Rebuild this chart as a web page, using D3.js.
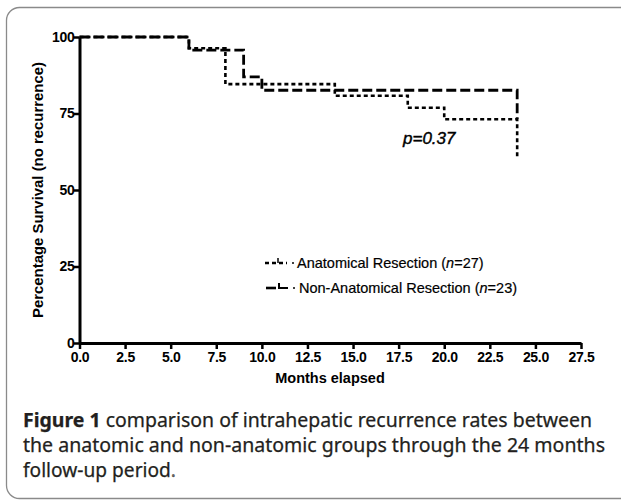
<!DOCTYPE html>
<html><head><meta charset="utf-8">
<script src="https://cdn.jsdelivr.net/npm/d3@7"></script>
<style>
body{margin:0;background:#fff;}
svg{display:block;}
</style></head>
<body>
<svg id="chart" width="621" height="501"></svg>
<script>
// ---- data ----
const xTicks = [0, 2.5, 5, 7.5, 10, 12.5, 15, 17.5, 20, 22.5, 25, 27.5];
const yTicks = [0, 25, 50, 75, 100];
const anatTimes = [0, 6, 8, 14, 18, 20, 24, 24];
const anatSurv  = [100, 96.3, 84.6, 80.8, 76.9, 73.1, 61.0, 61.0];
const nonTimes  = [0, 6, 9, 10, 24, 24];
const nonSurv   = [100, 95.7, 87.0, 82.6, 73.3, 73.3];
const legendLabels = [
  {name: "Anatomical Resection (", n: "n", rest: "=27)"},
  {name: "Non-Anatomical Resection (", n: "n", rest: "=23)"}
];
const pText = "p=0.37";
const captionBold = "Figure 1";
const captionLines = [
  " comparison of intrahepatic recurrence rates between",
  "the anatomic and non-anatomic groups through the 24 months",
  "follow-up period"
];

const svg = d3.select("#chart");
// frame
svg.append("rect").attr("x", 6.5).attr("y", 7.5).attr("width", 680).attr("height", 491)
  .attr("rx", 13).attr("fill", "none").attr("stroke", "#8a8a8a").attr("stroke-width", 1.3);

const x = d3.scaleLinear().domain([0, 27.5]).range([79.5, 581]);
const y = d3.scaleLinear().domain([0, 100]).range([343, 37]);

const tickFont = "'Liberation Sans', Arial, sans-serif";

// x axis
const gx = svg.append("g").attr("transform", "translate(0,343)")
  .call(d3.axisBottom(x).tickValues(xTicks).tickFormat(d3.format(".1f")).tickSize(6).tickSizeOuter(0));
gx.select(".domain").attr("stroke", "#000").attr("stroke-width", 3);
gx.selectAll(".tick line").attr("stroke", "#000").attr("stroke-width", 2.5);
gx.selectAll(".tick text").attr("font-family", tickFont).attr("font-weight", "bold")
  .attr("font-size", 14).attr("fill", "#000").attr("y", 9.5).attr("dy", "0.71em")
  .attr("letter-spacing", -0.3);

// y axis
const gy = svg.append("g").attr("transform", "translate(79.5,0)")
  .call(d3.axisLeft(y).tickValues(yTicks).tickFormat(d3.format("d")).tickSize(6).tickSizeOuter(0));
gy.select(".domain").attr("stroke", "#000").attr("stroke-width", 3);
gy.selectAll(".tick line").attr("stroke", "#000").attr("stroke-width", 2.5);
gy.selectAll(".tick text").attr("font-family", tickFont).attr("font-weight", "bold")
  .attr("font-size", 14).attr("fill", "#000").attr("x", -5).attr("letter-spacing", -0.3);

// axis titles
svg.append("text").attr("x", 330).attr("y", 383).attr("text-anchor", "middle")
  .attr("font-family", tickFont).attr("font-weight", "bold").attr("font-size", 14.5)
  .text("Months elapsed");
svg.append("text").attr("transform", "translate(43,190) rotate(-90)").attr("text-anchor", "middle")
  .attr("font-family", tickFont).attr("font-weight", "bold").attr("font-size", 14.5)
  .attr("textLength", 256).attr("lengthAdjust", "spacingAndGlyphs")
  .text("Percentage Survival (no recurrence)");

// curves
const line = d3.line().x(d => x(d[0])).y(d => y(d[1])).curve(d3.curveStepAfter);
const nonData = nonTimes.map((t, i) => [t, nonSurv[i]]);
const anatData = anatTimes.map((t, i) => [t, anatSurv[i]]);
svg.append("path").attr("d", line(nonData)).attr("fill", "none").attr("stroke", "#000")
  .attr("stroke-width", 2.8).attr("stroke-dasharray", "10,4");
svg.append("path").attr("d", line(anatData)).attr("fill", "none").attr("stroke", "#000")
  .attr("stroke-width", 2.6).attr("stroke-dasharray", "4,3");

// p value
svg.append("text").attr("x", 403).attr("y", 144).attr("font-family", tickFont)
  .attr("font-style", "italic").attr("font-size", 17).attr("fill", "#000")
  .attr("stroke", "#000").attr("stroke-width", 0.4).text(pText);

// legend
const legY = [263, 288];
const lg = svg.append("g");
// anatomical symbol
lg.append("line").attr("x1", 265).attr("x2", 287).attr("y1", legY[0]).attr("y2", legY[0])
  .attr("stroke", "#000").attr("stroke-width", 2.4).attr("stroke-dasharray", "4,3");
lg.append("line").attr("x1", 278).attr("x2", 278).attr("y1", legY[0] - 5).attr("y2", legY[0])
  .attr("stroke", "#000").attr("stroke-width", 1.5);
lg.append("circle").attr("cx", 293).attr("cy", legY[0]).attr("r", 1).attr("fill", "#000");
// non-anatomical symbol
lg.append("line").attr("x1", 266).attr("x2", 276).attr("y1", legY[1]).attr("y2", legY[1])
  .attr("stroke", "#000").attr("stroke-width", 2.6);
lg.append("path").attr("d", `M279,${legY[1] - 5} V${legY[1]} H288`).attr("fill", "none")
  .attr("stroke", "#000").attr("stroke-width", 2);
lg.append("circle").attr("cx", 294).attr("cy", legY[1]).attr("r", 1).attr("fill", "#000");
legendLabels.forEach((l, i) => {
  const t = lg.append("text").attr("x", i === 0 ? 297 : 299).attr("y", legY[i] + 5)
    .attr("font-family", tickFont).attr("font-size", 14.5).attr("fill", "#000")
    .attr("stroke", "#000").attr("stroke-width", 0.2);
  t.append("tspan").text(l.name);
  t.append("tspan").attr("font-style", "italic").text(l.n);
  t.append("tspan").text(l.rest);
});

// caption
const capFont = "'Noto Sans', 'Open Sans', sans-serif";
const capY = [427, 452, 477];
const c1 = svg.append("text").attr("x", 23).attr("y", capY[0]).attr("font-family", capFont)
  .attr("font-size", 19).attr("fill", "#231f20");
c1.append("tspan").attr("font-weight", "bold").text(captionBold);
c1.append("tspan").text(captionLines[0]);
const c2 = svg.append("text").attr("x", 23).attr("y", capY[1]).attr("font-family", capFont)
  .attr("font-size", 19).attr("fill", "#231f20").text(captionLines[1]);
const c3 = svg.append("text").attr("x", 23).attr("y", capY[2]).attr("font-family", capFont)
  .attr("font-size", 19).attr("fill", "#231f20");
c3.append("tspan").text(captionLines[2]);
c3.append("tspan").attr("fill", "#666").text(".");
[c1, c2, c3].forEach(c => c.attr("stroke", "#231f20").attr("stroke-width", 0.25));
// fit caption widths to the reference line lengths
const targets = [569, 582, 153];
[c1, c2, c3].forEach((c, i) => {
  c.attr("textLength", targets[i]).attr("lengthAdjust", "spacingAndGlyphs");
});
</script>
</body></html>
